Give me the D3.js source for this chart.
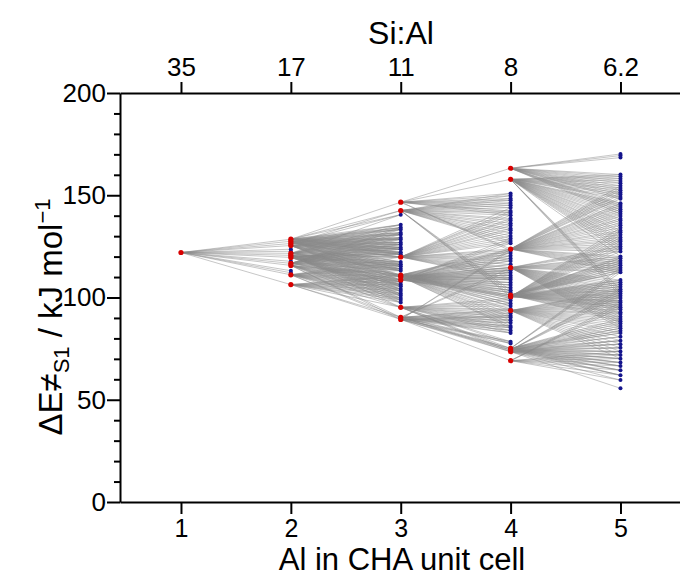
<!DOCTYPE html>
<html>
<head>
<meta charset="utf-8">
<script src="https://cdn.jsdelivr.net/npm/d3@7"></script>
<style>
  body { margin: 0; background: #fff; }
  text { font-family: "Liberation Sans", Arial, sans-serif; }
</style>
</head>
<body>
<script>
// number of Al per unit cell and matching Si:Al ratio
var alCount = [1, 2, 3, 4, 5];
var siAl = ["35", "17", "11", "8", "6.2"];
var yMajor = [0, 50, 100, 150, 200];
var yMinor = [10, 20, 30, 40, 60, 70, 80, 90, 110, 120, 130, 140, 160, 170, 180, 190];

// barriers (kJ/mol) at each Al count, red = expanded further, blue = not
var red1 = [122];
var blue1 = [];
var red2 = [128.5, 127.5, 126.4, 125.4, 121.6, 120.6, 119.6, 116.7, 115.7, 111.1, 106.3];
var blue2 = [123.6, 122.6, 117.7, 113.1, 112.1];
var red3 = [146.6, 142.5, 119.8, 111.0, 110.2, 108.6, 95.2, 90.3, 89.3];
var blue3 = [140.5, 135.6, 134.2, 133.3, 131.7, 130.8, 129.2, 128.4, 126.9, 125.9, 124.5, 123.6, 122.1, 121.2,
  117.4, 116.2, 115.3, 114.0, 113.1, 107.6, 106.4, 105.5, 104.1, 103.2, 101.9, 101.0, 99.7, 98.8, 97.6];
var red4 = [163.2, 157.8, 123.7, 114.6, 101.2, 100.4, 93.6, 75.1, 74.3, 73.5, 69.1];
var blue4 = [150.9, 149.8, 148.4, 147.5, 146.2, 145.1, 143.9, 142.3, 141.4, 140.2, 138.6, 137.7, 136.3, 135.2,
  133.8, 132.9, 131.5, 130.1, 128.8, 127.6, 126.5, 122.9, 121.8, 120.4, 119.1, 117.9, 116.2, 113.3, 112.1,
  110.8, 109.6, 108.7, 107.3, 106.1, 104.8, 103.5, 102.4, 99.6, 98.5, 97.1, 95.9, 94.4, 92.3, 91.1, 90.2,
  88.9, 87.6, 86.1, 85.2, 83.9, 82.7, 78.4, 77.5];
var red5 = [];
var blue5 = [170.2, 169.4, 168.4, 160.1, 159.2, 158.1, 157.0, 155.9, 154.6, 153.5, 152.5, 151.3, 150.4, 149.2,
  148.3, 146.1, 145.2, 144.3, 143.1, 142.0, 140.9, 139.8, 138.5, 137.6, 136.4, 135.3, 134.1, 132.8, 131.9,
  130.7, 129.4, 128.3, 127.4, 126.2, 125.0, 123.8, 122.5, 120.1, 119.2, 118.0, 116.9, 115.8, 114.6, 113.4,
  112.3, 108.5, 107.4, 106.3, 105.2, 104.0, 103.1, 101.9, 100.8, 99.7, 98.4, 97.5, 96.3, 95.2, 94.1, 92.8,
  91.9, 90.6, 89.5, 88.4, 87.3, 86.1, 85.0, 83.7, 82.6, 80.8, 78.9, 77.2, 75.4, 73.6, 71.9, 70.1, 68.2,
  66.5, 64.4, 62.0, 59.6, 55.6];

// links: [parent barrier, lowest child, highest child] to the next Al count
var links12 = [[122, 100, 130]];
var links23 = [[128.5, 120, 147], [127.5, 108, 136], [126.4, 118, 143], [125.4, 104, 131], [121.6, 111, 141],
  [120.6, 95, 122], [119.6, 100, 126], [116.7, 106, 135], [115.7, 89, 112], [111.1, 89, 121], [106.3, 89, 111]];
var links34 = [[146.6, 140, 165], [146.6, 122, 126], [142.5, 126, 152], [142.5, 100, 104], [119.8, 108, 145],
  [111.0, 95, 125], [110.2, 85, 115], [108.6, 100, 130], [95.2, 70, 100], [90.3, 73, 95], [90.3, 113, 116],
  [89.3, 68, 92], [89.3, 122, 126]];
var links45 = [[163.2, 140, 171], [157.8, 120, 161], [157.8, 100, 104], [123.7, 110, 155], [114.6, 85, 125],
  [101.2, 88, 120], [100.4, 95, 135], [93.6, 70, 105], [75.1, 60, 90], [75.1, 110, 115], [74.3, 62, 85],
  [74.3, 100, 104], [73.5, 55, 80], [69.1, 56, 75], [69.1, 95, 98]];

var reds = [red1, red2, red3, red4, red5];
var blues = [blue1, blue2, blue3, blue4, blue5];
var links = [links12, links23, links34, links45];

var width = 680, height = 577;
var svg = d3.select("body").append("svg").attr("width", width).attr("height", height);

var x = d3.scaleLinear().domain([0.445, 5.56]).range([120, 682]);
var y = d3.scaleLinear().domain([0, 200]).range([502, 93]);

// connecting lines
var segs = [];
links.forEach(function (lk, i) {
  var kids = reds[i + 1].concat(blues[i + 1]);
  lk.forEach(function (l) {
    kids.forEach(function (c) {
      if (c >= l[1] && c <= l[2]) segs.push({ x1: alCount[i], y1: l[0], x2: alCount[i + 1], y2: c });
    });
  });
});
svg.append("g").selectAll("line").data(segs).enter().append("line")
  .attr("x1", function (d) { return x(d.x1); })
  .attr("y1", function (d) { return y(d.y1); })
  .attr("x2", function (d) { return x(d.x2); })
  .attr("y2", function (d) { return y(d.y2); })
  .attr("stroke", "#8a8a8a").attr("stroke-width", 0.8).attr("stroke-opacity", 0.6);

// points
var bluePts = [], redPts = [];
alCount.forEach(function (n, i) {
  blues[i].forEach(function (v) { bluePts.push([n, v]); });
  reds[i].forEach(function (v) { redPts.push([n, v]); });
});
svg.append("g").selectAll("circle").data(bluePts).enter().append("circle")
  .attr("cx", function (d) { return x(d[0]); }).attr("cy", function (d) { return y(d[1]); })
  .attr("r", 2).attr("fill", "#14148c");
svg.append("g").selectAll("circle").data(redPts).enter().append("circle")
  .attr("cx", function (d) { return x(d[0]); }).attr("cy", function (d) { return y(d[1]); })
  .attr("r", 2.6).attr("fill", "#d80000");

// axes
function styleAxis(g, fs) {
  g.selectAll("path, line").attr("stroke", "#000").attr("stroke-width", 2);
  g.selectAll("text").attr("font-size", fs).attr("fill", "#000")
    .attr("font-family", "Liberation Sans, Arial, sans-serif");
}
var gl = svg.append("g").attr("transform", "translate(120,0)")
  .call(d3.axisLeft(y).tickValues(yMajor).tickSize(13).tickSizeOuter(0).tickPadding(1));
styleAxis(gl, 26);
var gm = svg.append("g").attr("transform", "translate(120,0)")
  .call(d3.axisLeft(y).tickValues(yMinor).tickSize(6).tickFormat(""));
gm.select(".domain").remove();
styleAxis(gm, 26);
var gb = svg.append("g").attr("transform", "translate(0,502)")
  .call(d3.axisBottom(x).tickValues(alCount).tickSize(12).tickSizeOuter(0).tickPadding(5)
    .tickFormat(d3.format("d")));
styleAxis(gb, 25);
var gt = svg.append("g").attr("transform", "translate(0,93)")
  .call(d3.axisTop(x).tickValues(alCount).tickSize(11).tickSizeOuter(0).tickPadding(6)
    .tickFormat(function (d, i) { return siAl[i]; }));
styleAxis(gt, 26);

// titles
svg.append("text").attr("x", 401).attr("y", 44).attr("text-anchor", "middle")
  .attr("font-size", 32).text("Si:Al");
svg.append("text").attr("x", 402).attr("y", 570).attr("text-anchor", "middle")
  .attr("font-size", 31).text("Al in CHA unit cell");
var yl = svg.append("text").attr("transform", "translate(62,317) rotate(-90)")
  .attr("text-anchor", "middle").attr("font-size", 33);
yl.append("tspan").text("ΔE≠");
yl.append("tspan").attr("font-size", 22).attr("dy", 7).text("S1");
yl.append("tspan").attr("dy", -7).text(" / kJ mol");
yl.append("tspan").attr("font-size", 22).attr("dy", -12).text("−1");
</script>
</body>
</html>
